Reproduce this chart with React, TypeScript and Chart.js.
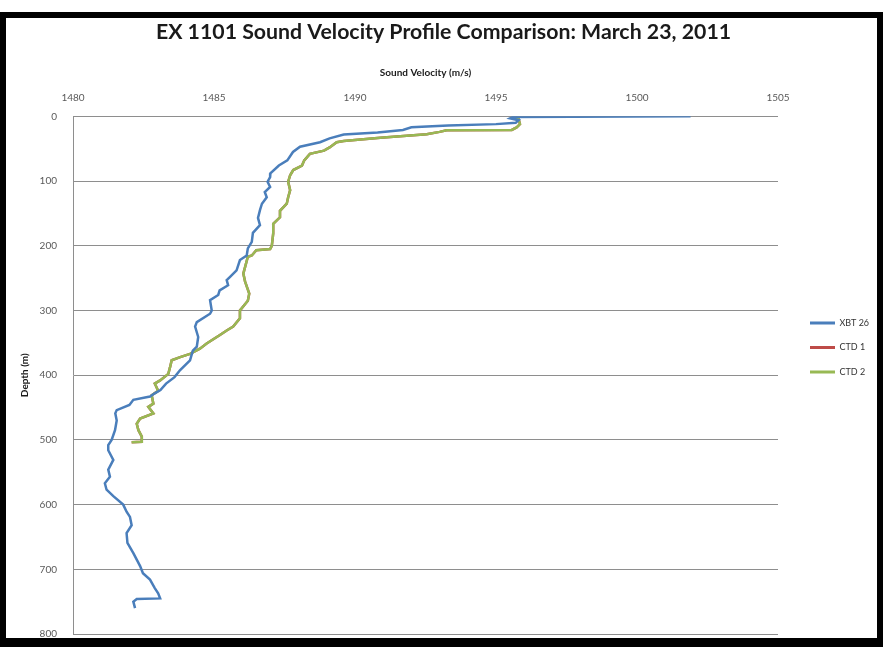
import React, { useEffect, useRef } from 'react';
import { Chart, registerables } from 'chart.js';

Chart.register(...registerables);

// ---- data ----
const seriesNames = ['XBT 26', 'CTD 1', 'CTD 2'];
const seriesColors = ['#4A7EBB', '#BE4B48', '#98B954'];

const xbtDepth = [0, 1, 3, 6, 10, 12, 14, 17, 21, 25, 28, 34, 40, 47, 55, 68, 76, 88, 94, 101, 109, 117, 125, 135, 145, 157, 168, 180, 194, 204, 215, 222, 238, 248, 253, 261, 269, 276, 284, 300, 305, 318, 325, 341, 356, 362, 377, 392, 403, 413, 423, 428, 433, 438, 446, 454, 459, 470, 485, 500, 508, 516, 531, 546, 557, 567, 577, 587, 600, 611, 619, 632, 644, 659, 675, 695, 706, 716, 729, 737, 745, 746, 750, 760];
const xbtVelocity = [1501.9, 1495.6, 1495.5, 1495.8, 1495.7, 1495.0, 1493.3, 1492.0, 1491.7, 1490.8, 1489.6, 1489.1, 1488.76, 1488.05, 1487.8, 1487.6, 1487.3, 1487.0, 1486.99, 1486.9, 1486.99, 1486.8, 1486.87, 1486.7, 1486.63, 1486.56, 1486.63, 1486.38, 1486.34, 1486.2, 1486.16, 1485.92, 1485.8, 1485.57, 1485.45, 1485.5, 1485.2, 1485.15, 1484.86, 1484.92, 1484.86, 1484.39, 1484.33, 1484.44, 1484.39, 1484.25, 1484.15, 1483.8, 1483.6, 1483.3, 1483.1, 1482.9, 1482.73, 1482.14, 1482.0, 1481.55, 1481.5, 1481.55, 1481.49, 1481.37, 1481.25, 1481.25, 1481.43, 1481.25, 1481.31, 1481.13, 1481.19, 1481.43, 1481.78, 1481.9, 1482.02, 1482.08, 1481.9, 1481.93, 1482.14, 1482.38, 1482.48, 1482.73, 1482.9, 1483.02, 1483.09, 1482.26, 1482.14, 1482.2];

const ctd1Depth = [2, 4, 12, 17, 21, 21.5, 24, 27.5, 33, 38, 40, 48, 53, 58, 68, 76, 83, 91, 101, 114, 125, 135, 146, 156, 166, 181, 200, 205, 207, 215, 217, 243, 255, 274, 285, 300, 312, 325, 331, 338, 351, 359, 367, 372, 377, 388, 398, 408, 413, 424, 431, 444, 449, 459, 467, 475, 485, 495, 503, 503.5];
const ctd1Velocity = [1495.7, 1495.8, 1495.85, 1495.73, 1495.56, 1493.25, 1493.0, 1492.54, 1490.9, 1489.6, 1489.35, 1489.1, 1488.9, 1488.4, 1488.2, 1488.12, 1487.81, 1487.7, 1487.63, 1487.7, 1487.63, 1487.58, 1487.34, 1487.34, 1487.1, 1487.1, 1487.05, 1486.99, 1486.5, 1486.34, 1486.2, 1486.04, 1486.1, 1486.25, 1486.2, 1485.92, 1485.92, 1485.68, 1485.45, 1485.21, 1484.74, 1484.5, 1484.15, 1483.8, 1483.5, 1483.44, 1483.38, 1483.09, 1482.9, 1483.02, 1482.79, 1482.85, 1482.67, 1482.85, 1482.38, 1482.26, 1482.32, 1482.44, 1482.44, 1482.08];

const ctd2Depth = [2, 4, 12, 17, 21, 21.5, 24, 27.5, 33, 38, 40, 48, 53, 58, 68, 76, 83, 91, 101, 114, 125, 135, 146, 156, 166, 181, 200, 205, 207, 215, 217, 243, 255, 274, 285, 300, 312, 325, 331, 338, 351, 359, 367, 372, 377, 388, 398, 408, 413, 424, 431, 444, 449, 459, 467, 475, 485, 495, 503, 503.5];
const ctd2Velocity = [1495.7, 1495.8, 1495.85, 1495.73, 1495.56, 1493.25, 1493.0, 1492.54, 1490.9, 1489.6, 1489.35, 1489.1, 1488.9, 1488.4, 1488.2, 1488.12, 1487.81, 1487.7, 1487.63, 1487.7, 1487.63, 1487.58, 1487.34, 1487.34, 1487.1, 1487.1, 1487.05, 1486.99, 1486.5, 1486.34, 1486.2, 1486.04, 1486.1, 1486.25, 1486.2, 1485.92, 1485.92, 1485.68, 1485.45, 1485.21, 1484.74, 1484.5, 1484.15, 1483.8, 1483.5, 1483.44, 1483.38, 1483.09, 1482.9, 1483.02, 1482.79, 1482.85, 1482.67, 1482.85, 1482.38, 1482.26, 1482.32, 1482.44, 1482.44, 1482.08];

const velocityTicks = [1480, 1485, 1490, 1495, 1500, 1505];
const depthTicks = [0, 100, 200, 300, 400, 500, 600, 700, 800];

const titleText = 'EX 1101 Sound Velocity Profile Comparison: March 23, 2011';
const xTitle = 'Sound Velocity (m/s)';
const yTitle = 'Depth (m)';

// ---- layout constants ----
const W = 887;
const H = 647;
const LEGEND_W = 109;
const LEGEND_PAD = 15.5;
const LEGEND_ITEM_X = 810;
const LEGEND_FIRST_TOP = 318.5;

const toPoints = (depth: number[], vel: number[]) => depth.map((d, i) => ({ x: vel[i], y: d }));

const legendPlace = {
  id: 'legendPlace',
  beforeLayout(chart: any) {
    const lg = chart.legend;
    if (lg && !lg.__patched) {
      const orig = lg.fit.bind(lg);
      lg.fit = function () {
        orig();
        this.width = LEGEND_W;
      };
      lg.__patched = true;
    }
  },
  afterLayout(chart: any) {
    const lg = chart.legend;
    if (!lg) return;
    lg.left = LEGEND_ITEM_X - LEGEND_PAD;
    lg.right = lg.left + lg.width;
    lg.top = LEGEND_FIRST_TOP - LEGEND_PAD;
    lg.bottom = lg.top + lg.height;
  },
};

export default function App() {
  const ref = useRef<HTMLCanvasElement | null>(null);

  useEffect(() => {
    if (!ref.current) return;
    const font = 'Lato';
    const series = [
      toPoints(xbtDepth, xbtVelocity),
      toPoints(ctd1Depth, ctd1Velocity),
      toPoints(ctd2Depth, ctd2Velocity),
    ];
    const drawOrder = [0, 2, 1];
    const chart = new Chart(ref.current, {
      type: 'scatter',
      data: {
        datasets: series.map((pts, i) => ({
          label: seriesNames[i],
          data: pts,
          showLine: true,
          borderColor: seriesColors[i],
          backgroundColor: seriesColors[i],
          borderWidth: 2.5,
          pointRadius: 0,
          pointHoverRadius: 0,
          tension: 0,
          order: drawOrder[i],
        })),
      },
      options: {
        animation: false,
        responsive: false,
        devicePixelRatio: 1,
        layout: { padding: { left: 0, top: 0, right: 0, bottom: 13 } },
        plugins: {
          title: {
            display: true,
            text: titleText,
            color: '#1a1a1a',
            font: { family: font, size: 21.3, weight: 'bold' },
            padding: { top: 19.5, bottom: 10.3 },
          },
          legend: {
            position: 'right',
            align: 'start',
            labels: {
              font: { family: font, size: 9 },
              color: '#333333',
              boxWidth: 25,
              boxHeight: 3,
              padding: LEGEND_PAD,
              sort: (a: any, b: any) => a.datasetIndex - b.datasetIndex,
              generateLabels: (c: any) =>
                (Chart.defaults.plugins.legend.labels.generateLabels as any)(c).map((l: any) => ({ ...l, lineWidth: 0 })),
            },
          },
          tooltip: { enabled: false },
        },
        scales: {
          x: {
            type: 'linear',
            position: 'top',
            min: 1480,
            max: 1505,
            afterBuildTicks: (s: any) => {
              s.ticks = velocityTicks.map((v) => ({ value: v }));
            },
            afterFit: (s: any) => {
              s.height = 61;
            },
            ticks: {
              font: { family: font, size: 10 },
              color: '#595959',
              padding: 13,
              maxRotation: 0,
              callback: (v: any) => String(v),
            },
            grid: { display: false, drawTicks: false },
            border: { display: false },
            title: {
              display: true,
              text: xTitle,
              color: '#1a1a1a',
              font: { family: font, size: 10, weight: 'bold' },
              padding: { top: 11, bottom: 0 },
            },
          },
          y: {
            type: 'linear',
            reverse: true,
            min: 0,
            max: 800,
            afterBuildTicks: (s: any) => {
              s.ticks = depthTicks.map((v) => ({ value: v }));
            },
            afterFit: (s: any) => {
              s.width = 73;
              s.paddingTop = 0;
              s.paddingBottom = 0;
            },
            ticks: {
              font: { family: font, size: 10 },
              color: '#595959',
              padding: 16,
              callback: (v: any) => String(v),
            },
            grid: { color: '#8e8e8e', lineWidth: 1, drawTicks: false },
            border: { display: true, color: '#8e8e8e', width: 1 },
            title: {
              display: true,
              text: yTitle,
              color: '#1a1a1a',
              font: { family: font, size: 10, weight: 'bold' },
              padding: { top: 19, bottom: 0 },
            },
          },
        },
      } as any,
      plugins: [legendPlace as any],
    });
    return () => chart.destroy();
  }, []);

  return (
    <div style={{ position: 'absolute', left: 0, top: 0, width: W, height: H, overflow: 'hidden', background: '#ffffff' }}>
      <canvas ref={ref} width={W} height={H} style={{ position: 'absolute', left: 0, top: 0, width: W, height: H }} />
      <div
        style={{
          position: 'absolute',
          left: 0,
          top: 12,
          width: 883,
          height: 647 - 12 + 4,
          boxSizing: 'border-box',
          borderLeft: '6px solid #000',
          borderTop: '6px solid #000',
          borderRight: '6px solid #000',
          borderBottom: '13px solid #000',
          pointerEvents: 'none',
        }}
      />
    </div>
  );
}
